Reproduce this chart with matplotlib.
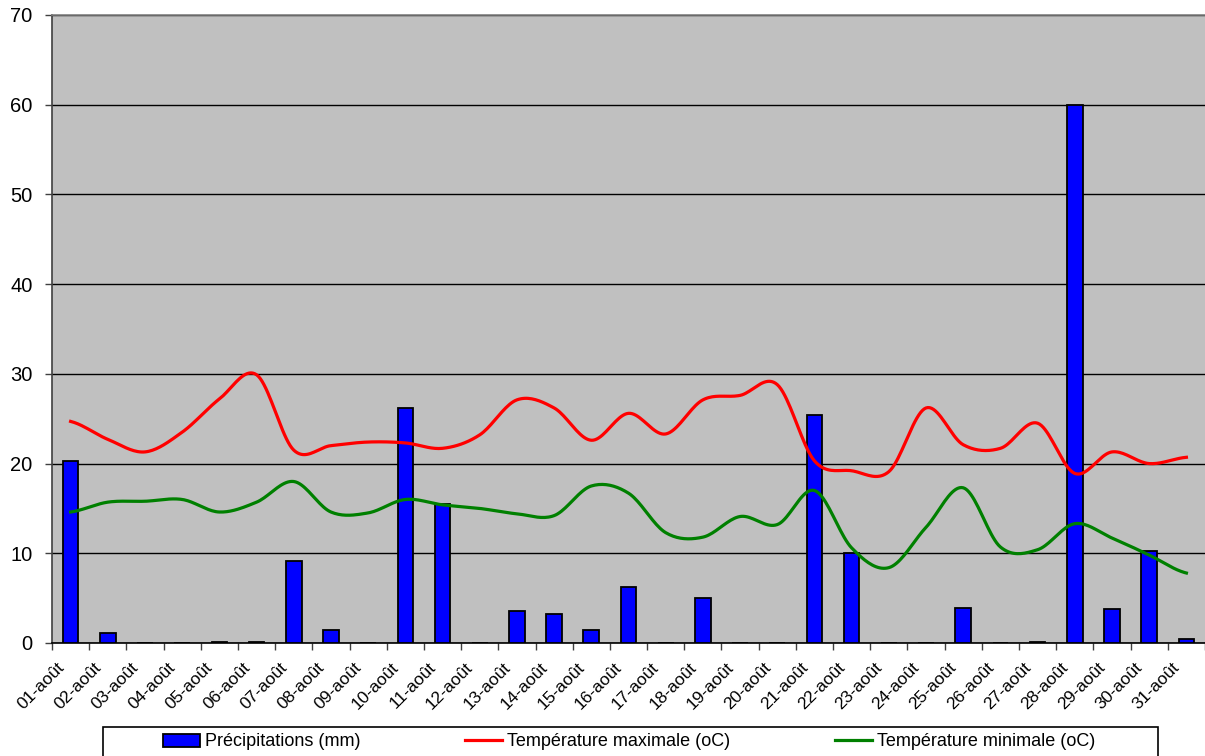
import numpy as np
import matplotlib.pyplot as plt
from matplotlib.patches import Patch, Rectangle
from matplotlib.lines import Line2D
from matplotlib.transforms import ScaledTranslation

plt.rcParams['font.family'] = ['Liberation Sans', 'DejaVu Sans']

# Données du mois d'août
jours = [f'{d:02d}-août' for d in range(1, 32)]
precip = [20.3, 1.1, 0.0, 0.0, 0.1, 0.1, 9.1, 1.4, 0.0, 26.2,
          15.5, 0.0, 3.6, 3.2, 1.4, 6.2, 0.0, 5.0, 0.0, 0.0,
          25.4, 10.0, 0.0, 0.0, 3.9, 0.0, 0.1, 60.0, 3.8, 10.3, 0.4]
tmax = [24.7, 22.7, 21.3, 23.5, 27.2, 29.9, 21.5, 22.0, 22.4, 22.3,
        21.7, 23.2, 27.1, 26.2, 22.6, 25.6, 23.3, 27.1, 27.6, 28.8,
        20.3, 19.2, 19.1, 26.2, 22.1, 21.7, 24.5, 18.9, 21.3, 20.0, 20.7]
tmin = [14.6, 15.7, 15.8, 16.0, 14.6, 15.7, 18.0, 14.6, 14.5, 16.0,
        15.4, 15.0, 14.4, 14.2, 17.5, 16.7, 12.3, 11.8, 14.1, 13.2,
        17.0, 10.6, 8.4, 12.9, 17.3, 10.7, 10.4, 13.3, 11.7, 9.8, 7.8]


def lisser(y, n=20):
    # courbe lissée façon Excel (Catmull-Rom)
    y = np.asarray(y, dtype=float)
    p = np.concatenate([[y[0]], y, [y[-1]]])
    xs, ys = [], []
    t = np.linspace(0, 1, n, endpoint=False)
    for i in range(len(y) - 1):
        p0, p1, p2, p3 = p[i], p[i + 1], p[i + 2], p[i + 3]
        c1 = p1 + (p2 - p0) / 6
        c2 = p2 - (p3 - p1) / 6
        b = (1 - t) ** 3 * p1 + 3 * (1 - t) ** 2 * t * c1 + 3 * (1 - t) * t ** 2 * c2 + t ** 3 * p2
        xs.extend(i + t)
        ys.extend(b)
    xs.append(len(y) - 1)
    ys.append(y[-1])
    return np.array(xs), np.array(ys)


fig = plt.figure(figsize=(12.05, 7.56), dpi=100)
ax = fig.add_axes([52 / 1205, 1 - 643 / 756, 1 - 52 / 1205, (643 - 15) / 756])
ax.set_facecolor('#C0C0C0')

x = np.arange(len(jours))
ax.bar(x, precip, width=0.42, color='#0000FF', edgecolor='black', linewidth=1.3, zorder=3)

xs, ys = lisser(tmax)
ax.plot(xs, ys, color='#FF0000', linewidth=2.3, zorder=4)
xs, ys = lisser(tmin)
ax.plot(xs, ys, color='#008000', linewidth=2.3, zorder=4)

ax.set_xlim(-0.5, len(jours) - 0.5)
ax.set_ylim(0, 70)
ax.set_yticks(range(0, 71, 10))
ax.yaxis.grid(True, color='black', linewidth=1.0, zorder=1)
ax.set_axisbelow(True)
ax.tick_params(axis='y', labelsize=14.5, length=5, width=1, color='#404040', pad=9)

ax.set_xticks(x)
ax.set_xticklabels(jours, rotation=45, ha='right', va='baseline',
                   rotation_mode='anchor', fontsize=12.5)
ax.set_xticks(np.arange(-0.5, len(jours), 1), minor=True)
ax.tick_params(axis='x', which='major', length=0, pad=18)
ax.tick_params(axis='x', which='minor', length=5, width=1, color='#404040')
decal = ScaledTranslation(-6 / 100, 0, fig.dpi_scale_trans)
for lab in ax.get_xticklabels():
    lab.set_transform(lab.get_transform() + decal)

ax.spines['right'].set_visible(False)
ax.spines['top'].set_color('#808080')
ax.spines['left'].set_color('#404040')
ax.spines['bottom'].set_color('black')
for s in ax.spines.values():
    s.set_linewidth(1.2)

# Légende en bas
fig.patches.append(Rectangle((103 / 1205, -0.01), (1158 - 103) / 1205, 0.01 + (756 - 727) / 756,
                             transform=fig.transFigure, fill=False, edgecolor='black', linewidth=1.2))
handles = [Patch(facecolor='#0000FF', edgecolor='black', linewidth=1.3),
           Line2D([], [], color='#FF0000', linewidth=2.3),
           Line2D([], [], color='#008000', linewidth=2.3)]
labels = ['Précipitations (mm)', 'Température maximale (oC)', 'Température minimale (oC)']
fig.legend(handles, labels, loc='center', bbox_to_anchor=(629 / 1205, 1 - 742 / 756),
           ncol=3, frameon=False, fontsize=13, columnspacing=5.8,
           handlelength=2.05, handletextpad=0.28, handleheight=0.7)

plt.savefig('out.png', dpi=100)
